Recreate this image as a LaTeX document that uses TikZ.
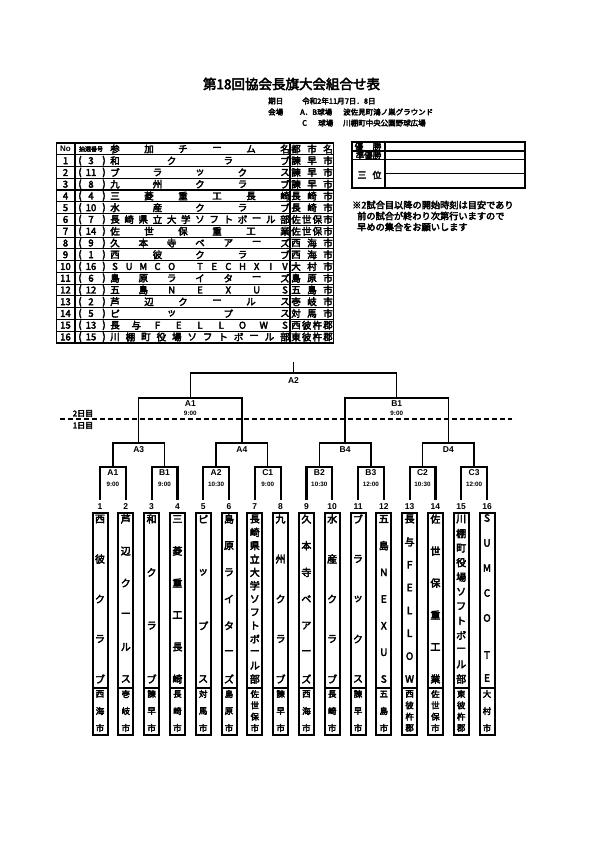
\documentclass[tikz,border=0pt]{standalone}
\usepackage{fontspec}
\setmainfont{Noto Sans CJK JP}[FakeBold=3.5]
\newfontfamily\lat{Liberation Sans}
\tikzset{
  ln/.style={line width=1.4pt},
  r1ln/.style={line width=2.2pt},
  boxln/.style={line width=2pt},
  tbox/.style={draw, line width=2pt, minimum width=15pt, minimum height=222pt, inner sep=0pt},
  vt/.style={inner sep=0pt, font=\fontsize{10}{10}\selectfont},
  ct/.style={inner sep=0pt, font=\fontsize{8.5}{8.5}\selectfont},
  tt/.style={inner sep=0pt, font=\fontsize{9.5}{9.5}\selectfont},
  hd/.style={inner sep=0pt, anchor=west, font=\fontsize{7.5}{7.5}\selectfont},
  nt/.style={inner sep=0pt, anchor=west, font=\fontsize{9.2}{9.2}\selectfont},
  lab/.style={inner sep=0pt, font=\lat\bfseries\fontsize{8.5}{8.5}\selectfont},
  tim/.style={inner sep=0pt, font=\lat\bfseries\fontsize{6.3}{6.3}\selectfont},
  num/.style={inner sep=0pt, font=\lat\bfseries\fontsize{8.5}{8.5}\selectfont},
  rl/.style={inner sep=0pt, font=\fontsize{8.5}{8.5}\selectfont},
}
\newcommand\hrow[5]{\foreach \c [count=\k] in #5 {\node[tt] at ({#1+(#2-#1)*(\k-1)/(#4-1)},#3) {\c};}}
\newcommand\vcol[5]{\foreach \c [count=\k] in #5 {\node[vt] at (#1,{#2+(#3-#2)*(\k-1)/(#4-1)}) {\c};}}
\newcommand\ccol[5]{\foreach \c [count=\k] in #5 {\node[ct] at (#1,{#2+(#3-#2)*(\k-1)/(#4-1)}) {\c};}}
\newcommand\tframe[3]{%
  \pgfmathsetmacro\tx{100+25.8*(#1-1)}%
  \node[tbox] (b#1) at (\tx,624) {};
  \draw[boxln] (\tx-7.5,688) -- (\tx+7.5,688);
  \node[num] (n#1) at (\tx,507) {#1};
  \ccol{\tx}{694}{728}{#2}{#3}}
\newcommand\team[5]{%
  \tframe{#1}{#4}{#5}%
  \vcol{\tx}{519}{679}{#2}{#3}}
\newcommand\trow[6]{%
  \pgfmathsetmacro\yy{149+11.75*#1}%
  \node[tt] at (65.5,\yy) {#1};
  \node[tt] at (80,\yy) {(};
  \node[tt] at (91,\yy) {#2};
  \node[tt] at (104,\yy) {)};
  \hrow{115}{285}{\yy}{#3}{#4}
  \hrow{296}{328}{\yy}{#5}{#6}}
\begin{document}
\begin{tikzpicture}[x=1pt,y=-1pt]
\useasboundingbox[fill=white] (0,0) rectangle (595,842);
% title and header
\node[inner sep=0pt, font=\fontsize{13.5}{13.5}\selectfont] (title) at (291.5,84) {第18回協会長旗大会組合せ表};
\node[hd] (h1) at (268,101) {期日};
\node[hd] (h2) at (302,101) {令和2年11月7日．8日};
\node[hd] (h3) at (268,112) {会場};
\node[hd] (h4) at (300,112) {A．B球場};
\node[hd] (h5) at (343,112) {波佐見町鴻ノ巣グラウンド};
\node[hd] (h6) at (302,123) {C};
\node[hd] (h7) at (318,123) {球場};
\node[hd] (h8) at (343,123) {川棚町中央公園野球広場};
% table
\foreach \k in {1,...,16} {\draw[line width=1.2pt] (56.5,{143.1+11.75*\k}) -- (333.5,{143.1+11.75*\k});}
\draw[ln] (56.5,143.1) rectangle (333.5,343);
\draw[ln] (75,143.1) -- (75,343);
\draw[ln] (290,143.1) -- (290,343);
\node[inner sep=0pt, font=\lat\bfseries\fontsize{8}{8}\selectfont] (hno) at (65.5,149) {No};
\node[inner sep=0pt, font=\fontsize{6}{6}\selectfont] (hsd) at (91,149) {抽選番号};
\hrow{115}{285}{149}{6}{{参,加,チ,ー,ム,名}}
\hrow{296}{328}{149}{3}{{都,市,名}}
\trow{1}{3}{4}{{和,ク,ラ,ブ}}{3}{{諫,早,市}}
\trow{2}{11}{5}{{ブ,ラ,ッ,ク,ス}}{3}{{諫,早,市}}
\trow{3}{8}{5}{{九,州,ク,ラ,ブ}}{3}{{諫,早,市}}
\trow{4}{4}{6}{{三,菱,重,工,長,崎}}{3}{{長,崎,市}}
\trow{5}{10}{5}{{水,産,ク,ラ,ブ}}{3}{{長,崎,市}}
\trow{6}{7}{13}{{長,崎,県,立,大,学,ソ,フ,ト,ボ,ー,ル,部}}{4}{{佐,世,保,市}}
\trow{7}{14}{6}{{佐,世,保,重,工,業}}{4}{{佐,世,保,市}}
\trow{8}{9}{7}{{久,本,寺,ベ,ア,ー,ズ}}{3}{{西,海,市}}
\trow{9}{1}{5}{{西,彼,ク,ラ,ブ}}{3}{{西,海,市}}
\trow{10}{16}{13}{{S,U,M,C,O,{},T,E,C,H,X,I,V}}{3}{{大,村,市}}
\trow{11}{6}{7}{{島,原,ラ,イ,タ,ー,ズ}}{3}{{島,原,市}}
\trow{12}{12}{7}{{五,島,N,E,X,U,S}}{3}{{五,島,市}}
\trow{13}{2}{6}{{芦,辺,ク,ー,ル,ス}}{3}{{壱,岐,市}}
\trow{14}{5}{4}{{ピ,ッ,プ,ス}}{3}{{対,馬,市}}
\trow{15}{13}{9}{{長,与,F,E,L,L,O,W,S}}{4}{{西,彼,杵,郡}}
\trow{16}{15}{12}{{川,棚,町,役,場,ソ,フ,ト,ボ,ー,ル,部}}{4}{{東,彼,杵,郡}}
% result box
\draw[ln] (352,142) rectangle (525,188);
\draw[ln] (385,142) -- (385,188);
\draw[line width=1.2pt] (352,151) -- (525,151);
\draw[line width=1.8pt] (352,159.5) -- (525,159.5);
\draw[line width=1.2pt] (385,173.5) -- (525,173.5);
\node[rl] (r1a) at (359,146.5) {優};
\node[rl] (r1b) at (377,146.5) {勝};
\node[rl] (r2) at (368.5,155.3) {準優勝};
\node[rl, font=\fontsize{9}{9}\selectfont] (r3a) at (362,175) {三};
\node[rl, font=\fontsize{9}{9}\selectfont] (r3b) at (377,175) {位};
% note
\node[nt] (nt1) at (352,205) {※2試合目以降の開始時刻は目安であり};
\node[nt] (nt2) at (357,216) {前の試合が終わり次第行いますので};
\node[nt] (nt3) at (357,227) {早めの集合をお願いします};
% day line
\coordinate (dl) at (60,419);
\coordinate (dr) at (512,419);
\draw[line width=1.3pt, dash pattern=on 5pt off 3pt] (dl) -- (dr);
\node[inner sep=0pt, font=\fontsize{8}{8}\selectfont] (d2) at (83,413.5) {2日目};
\node[inner sep=0pt, font=\fontsize{8}{8}\selectfont] (d1) at (83,425.5) {1日目};
% teams
\team{1}{5}{{西,彼,ク,ラ,ブ}}{3}{{西,海,市}}
\team{2}{6}{{芦,辺,ク,ー,ル,ス}}{3}{{壱,岐,市}}
\team{3}{4}{{和,ク,ラ,ブ}}{3}{{諫,早,市}}
\team{4}{6}{{三,菱,重,工,長,崎}}{3}{{長,崎,市}}
\team{5}{4}{{ピ,ッ,プ,ス}}{3}{{対,馬,市}}
\team{6}{7}{{島,原,ラ,イ,タ,ー,ズ}}{3}{{島,原,市}}
\team{7}{13}{{長,崎,県,立,大,学,ソ,フ,ト,ボ,ー,ル,部}}{4}{{佐,世,保,市}}
\team{8}{5}{{九,州,ク,ラ,ブ}}{3}{{諫,早,市}}
\team{9}{7}{{久,本,寺,ベ,ア,ー,ズ}}{3}{{西,海,市}}
\team{10}{5}{{水,産,ク,ラ,ブ}}{3}{{長,崎,市}}
\team{11}{5}{{ブ,ラ,ッ,ク,ス}}{3}{{諫,早,市}}
\team{12}{7}{{五,島,N,E,X,U,S}}{3}{{五,島,市}}
\team{13}{8}{{長,与,F,E,L,L,O,W}}{4}{{西,彼,杵,郡}}
\team{14}{6}{{佐,世,保,重,工,業}}{4}{{佐,世,保,市}}
\team{15}{12}{{川,棚,町,役,場,ソ,フ,ト,ボ,ー,ル,部}}{4}{{東,彼,杵,郡}}
\tframe{16}{3}{{大,村,市}}
\node[vt] (s1) at (487,518) {S};
\node[vt] (s2) at (487,543) {U};
\node[vt] (s3) at (487,568) {M};
\node[vt] (s4) at (487,593) {C};
\node[vt] (s5) at (487,618) {O};
\node[vt] (s6) at (487,655) {T};
\node[vt] (s7) at (487,678) {E};
% bracket coordinates
\foreach \i in {1,...,16} {\coordinate (p\i) at ({100+25.8*(\i-1)},500);}
\foreach \j in {1,...,8} {\coordinate (m\j) at ({112.9+51.6*(\j-1)},467);}
\foreach \j in {1,...,4} {\coordinate (q\j) at ({138.7+103.2*(\j-1)},443);}
\coordinate (s1c) at (190.3,398);
\coordinate (s2c) at (396.7,398);
\coordinate (fc) at (293.5,373);
\coordinate (top) at (293.5,362);
% bracket lines
\foreach \j in {1,...,8} {
  \pgfmathtruncatemacro\a{2*\j-1}
  \pgfmathtruncatemacro\b{2*\j}
  \draw[r1ln] (p\a) |- (m\j) -| (p\b);
}
\draw[ln] (m1) |- (q1) -| (m2);
\draw[ln] (m3) |- (q2) -| (m4);
\draw[ln] (m5) |- (q3) -| (m6);
\draw[ln] (m7) |- (q4) -| (m8);
\draw[ln] (q1) |- (s1c) -| (q2);
\draw[ln] (q3) |- (s2c) -| (q4);
\draw[ln] (s1c) |- (fc) -| (s2c);
\draw[ln] (fc) -- (top);
% match labels
\foreach \j/\g/\t in {1/A1/9:00, 2/B1/9:00, 3/A2/10:30, 4/C1/9:00, 5/B2/10:30, 6/B3/12:00, 7/C2/10:30, 8/C3/12:00} {
  \node[lab] (g\j) at ({112.9+51.6*(\j-1)},473) {\g};
  \node[tim] (gt\j) at ({112.9+51.6*(\j-1)},484.5) {\t};
}
\foreach \j/\g in {1/A3, 2/A4, 3/B4, 4/D4} {
  \node[lab] (qq\j) at ({138.7+103.2*(\j-1)},449.5) {\g};
}
\node[lab] (sl1) at (190.3,404) {A1};
\node[tim] (st1) at (190.3,413.5) {9:00};
\node[lab] (sl2) at (396.7,404) {B1};
\node[tim] (st2) at (396.7,413.5) {9:00};
\node[lab] (fl) at (293.5,380.5) {A2};
\end{tikzpicture}
\end{document}
